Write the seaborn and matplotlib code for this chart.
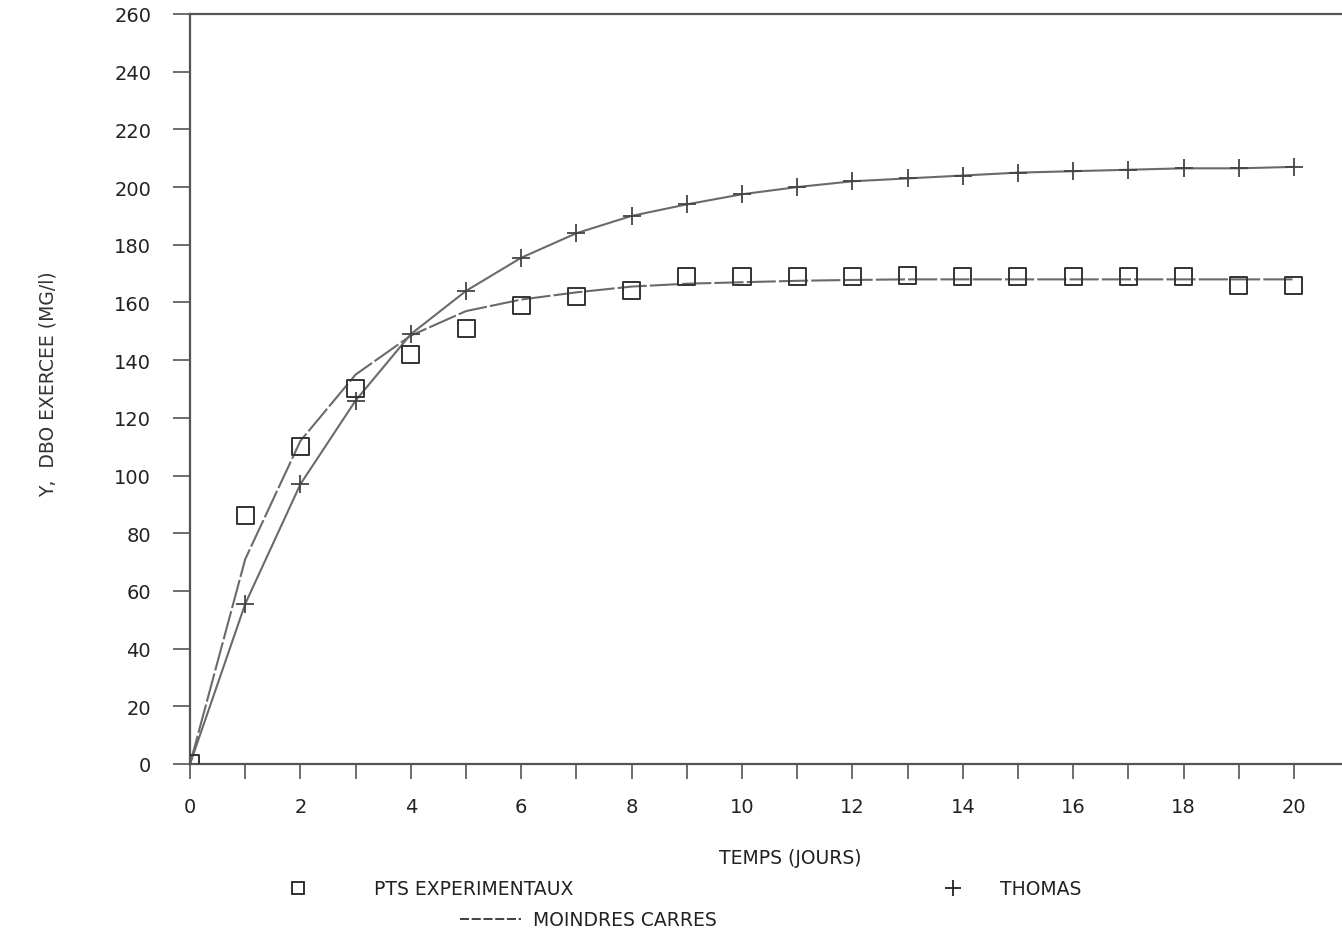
import numpy as np
import pandas as pd
import matplotlib
matplotlib.use("Agg")
import matplotlib.pyplot as plt
from matplotlib.lines import Line2D
import seaborn as sns

# data
jours = [0, 1, 2, 3, 4, 5, 6, 7, 8, 9, 10, 11, 12, 13, 14, 15, 16, 17, 18, 19, 20]
pts_experimentaux = [0, 86, 110, 130, 142, 151, 159, 162, 164, 169, 169, 169, 169,
                     169.5, 169, 169, 169, 169, 169, 166, 166]
thomas = [0, 55.5, 97, 126, 149, 164, 175.5, 184, 190, 194, 197.5, 200, 202,
          203, 204, 205, 205.5, 206, 206.5, 206.5, 207]
moindres_carres = [0, 71, 112, 135, 148.5, 157, 161, 163.5, 165.5, 166.5, 167,
                   167.5, 167.8, 168, 168, 168, 168, 168, 168, 168, 168]

xtick_vals = list(range(0, 21))
ytick_vals = list(range(0, 261, 20))

df = pd.DataFrame({"jours": jours, "exp": pts_experimentaux,
                   "thomas": thomas, "mc": moindres_carres})

sns.set_style("ticks")
plt.rcParams["font.family"] = ["DejaVu Sans"]

fig = plt.figure(figsize=(13.42, 9.37), dpi=100)
ax = fig.add_axes([0.1416, 0.1836, 0.8584, 0.8004])

line_col = "#6a6a6a"
sns.lineplot(data=df, x="jours", y="mc", ax=ax, color=line_col, lw=1.5,
             linestyle=(0, (14, 1.5)))
sns.lineplot(data=df, x="jours", y="thomas", ax=ax, color=line_col, lw=1.5,
             marker="+", markersize=13, markeredgewidth=1.3,
             markeredgecolor="#444444")
sns.scatterplot(data=df, x="jours", y="exp", ax=ax, marker="s", s=150,
                facecolors="none", edgecolor="#333333", linewidth=1.4, zorder=5)

ax.set_xlim(0, 20.87)
ax.set_ylim(0, 260)
ax.set_xticks(xtick_vals)
ax.set_xticklabels([str(v) if v % 2 == 0 else "" for v in xtick_vals])
ax.set_yticks(ytick_vals)
ax.set_yticklabels([str(v) for v in ytick_vals])

ax.tick_params(axis="x", direction="out", length=11, width=1.2, pad=13,
               labelsize=14, colors="#555555", labelcolor="#222222")
ax.tick_params(axis="y", direction="out", length=12, width=1.2, pad=16,
               labelsize=14, colors="#555555", labelcolor="#222222")

for side in ["left", "top", "bottom"]:
    ax.spines[side].set_color("#555555")
    ax.spines[side].set_linewidth(1.6)
ax.spines["right"].set_visible(False)

ax.set_xlabel("")
ax.set_ylabel("")

fig.text(0.036, 0.59, "Y,  DBO EXERCEE (MG/l)", rotation=90, fontsize=13.5,
         color="#333333", ha="center", va="center")
fig.text(0.589, 0.084, "TEMPS (JOURS)", fontsize=13.5, color="#222222",
         ha="center", va="center")

# legend drawn under the axis
fig.add_artist(Line2D([0.222], [0.051], marker="s", markersize=9,
                      markerfacecolor="none", markeredgecolor="#222222",
                      markeredgewidth=1.3, transform=fig.transFigure))
fig.text(0.279, 0.051, "PTS EXPERIMENTAUX", fontsize=13.5, color="#222222",
         va="center")
fig.add_artist(Line2D([0.710], [0.051], marker="+", markersize=11,
                      markeredgecolor="#222222", markeredgewidth=1.3,
                      transform=fig.transFigure))
fig.text(0.745, 0.051, "THOMAS", fontsize=13.5, color="#222222", va="center")
fig.add_artist(Line2D([0.343, 0.388], [0.018, 0.018], color="#333333", lw=1.3,
                      linestyle=(0, (5, 1.5)), transform=fig.transFigure))
fig.text(0.397, 0.018, "MOINDRES CARRES", fontsize=13.5, color="#222222",
         va="center")

fig.savefig("out.png", dpi=100)
